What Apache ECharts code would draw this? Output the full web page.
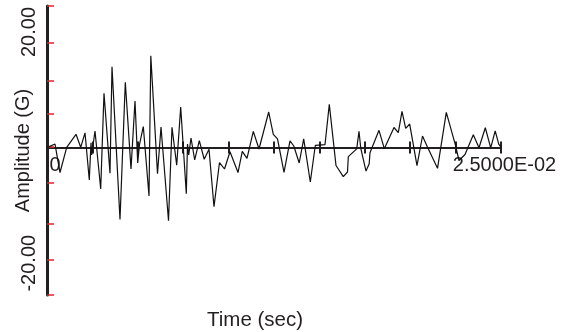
<!DOCTYPE html>
<html>
<head>
<meta charset="utf-8">
<script src="https://cdn.jsdelivr.net/npm/echarts@6/dist/echarts.min.js"></script>
<style>
html,body{margin:0;padding:0;background:#fff;}
#c{width:568px;height:332px;}
</style>
</head>
<body>
<div id="c"></div>
<script>
// Time (sec)
const times = [0, 0.000441, 0.000716, 0.001085, 0.001597, 0.001856, 0.002093, 0.002329, 0.002423, 0.002461,
  0.002643, 0.002957, 0.003139, 0.003469, 0.003579, 0.004020, 0.004312, 0.004626, 0.004846, 0.004995,
  0.005094, 0.005303, 0.005617, 0.005716, 0.006085, 0.006278, 0.006691, 0.006883, 0.007142, 0.007362,
  0.007671, 0.007737, 0.007803, 0.007930, 0.008133, 0.008387, 0.008656, 0.008921, 0.009196, 0.009499,
  0.009774, 0.010077, 0.010518, 0.010754, 0.011013, 0.011360, 0.011674, 0.012208, 0.012462, 0.012693,
  0.013051, 0.013381, 0.013590, 0.013888, 0.014135, 0.014499, 0.014774, 0.015308, 0.015545, 0.015914,
  0.016316, 0.016547, 0.016592, 0.017054, 0.017181, 0.017274, 0.017566, 0.017742, 0.017786, 0.018282,
  0.018574, 0.019108, 0.019345, 0.019548, 0.019752, 0.019972, 0.020374, 0.020677, 0.020942, 0.021504,
  0.021988, 0.022495, 0.022687, 0.023018, 0.023475, 0.023789, 0.024136, 0.024433, 0.024681, 0.024874,
  0.025];
// Amplitude (G)
const amps = [0.0, 0.62, -4.31, 0.05, 2.30, 0.05, 2.56, -5.60, 0.85, -1.28,
  2.87, -7.16, 9.40, -4.44, 14.00, -12.44, 11.30, -3.70, 8.06, -2.66,
  0.57, 3.65, -8.37, 15.88, -4.53, 3.57, -12.65, 3.51, -3.06, 7.03,
  -7.97, 0.62, -1.28, 1.66, -2.14, 1.20, -2.01, -0.28, -10.22, -2.58,
  -3.70, -0.72, -4.31, -0.64, -1.85, 2.82, -0.24, 6.16, 2.30, 1.52,
  -4.27, 1.18, 0.28, -2.66, 1.52, -5.95, 0.37, 0.50, 7.49, -3.10,
  -5.03, -4.22, -1.57, -0.21, 2.82, -0.03, -4.05, -2.78, -0.90, 2.99,
  -0.19, 3.48, 2.58, 6.28, 3.34, 4.08, -3.13, 2.01, 0.16, -3.58,
  6.11, 0.40, -2.23, -1.19, 2.23, -0.03, 3.44, -0.03, 2.91, 0.59,
  0.10];
const yTickValues = [24.5, 18.1, 11.5, 5.8, 0.1, -6.1, -13.2, -19.4, -25.5];
const yLabelValues = [20, -20];
const xLabelText = { 0: '0', 0.025: '2.5000E-02' };

const FONT = "'Liberation Sans', Arial, sans-serif";
const TXT = '#231f20';
const Y_MIN = -25.5, Y_MAX = 24.5;
const GRID_TOP = 6, GRID_H = 289;
// shift the bottom x axis up onto the zero line of the amplitude scale
const ZERO_OFFSET = -GRID_H * (0 - Y_MIN) / (Y_MAX - Y_MIN);

const chart = echarts.init(document.getElementById('c'), null, { renderer: 'canvas' });
const xCommon = {
  type: 'value', min: 0, max: 0.025, interval: 0.0025, gridIndex: 0,
  position: 'bottom', offset: ZERO_OFFSET,
  splitLine: { show: false },
  axisLine: { show: true, onZero: false, lineStyle: { color: '#231f20', width: 2 } }
};
chart.setOption({
  animation: false,
  backgroundColor: '#fff',
  grid: { left: 47, top: GRID_TOP, width: 454, height: GRID_H, containLabel: false, outerBoundsMode: 'none' },
  title: {
    text: 'Time (sec)', left: 207, top: 310, padding: 0,
    textStyle: { fontFamily: FONT, fontSize: 20.5, fontWeight: 'normal', color: TXT }
  },
  xAxis: [
    Object.assign({}, xCommon, {
      axisTick: { show: true, inside: false, length: 6, lineStyle: { color: '#231f20', width: 2 } },
      axisLabel: {
        show: true, margin: 8, interval: 0, showMaxLabel: true, showMinLabel: true,
        formatter: function (v) {
          if (Math.abs(v) < 1e-9) return '{a|' + xLabelText[0] + '}';
          if (Math.abs(v - 0.025) < 1e-9) return '{b|' + xLabelText[0.025] + '}';
          return '';
        },
        rich: {
          a: { fontFamily: FONT, fontSize: 20, color: TXT, padding: [0, 0, 0, 16] },
          b: { fontFamily: FONT, fontSize: 20, color: TXT, padding: [0, 0, 0, 7] }
        }
      }
    }),
    Object.assign({}, xCommon, {
      axisTick: { show: true, inside: true, length: 6, lineStyle: { color: '#231f20', width: 2 } },
      axisLabel: { show: false }
    })
  ],
  yAxis: [{
    type: 'value', min: Y_MIN, max: Y_MAX, position: 'left',
    splitLine: { show: false },
    axisLine: { show: true, onZero: false, lineStyle: { color: '#231f20', width: 3 } },
    axisTick: { show: true, inside: true, length: 7, customValues: yTickValues, lineStyle: { color: '#e8202a', width: 1.5 } },
    axisLabel: {
      show: true, rotate: 90, margin: 8, customValues: yLabelValues,
      fontFamily: FONT, fontSize: 20, color: TXT,
      formatter: function (v) { return v.toFixed(2); }
    },
    name: 'Amplitude (G)', nameLocation: 'middle', nameGap: 14, nameRotate: 90,
    nameMoveOverlap: false,
    nameTextStyle: { fontFamily: FONT, fontSize: 20, color: TXT }
  }],
  series: [{
    type: 'line', xAxisIndex: 0, yAxisIndex: 0,
    data: times.map((t, i) => [t, amps[i]]),
    showSymbol: false, symbol: 'none',
    lineStyle: { color: '#111', width: 1.2 },
    z: 1
  }]
});
</script>
</body>
</html>
